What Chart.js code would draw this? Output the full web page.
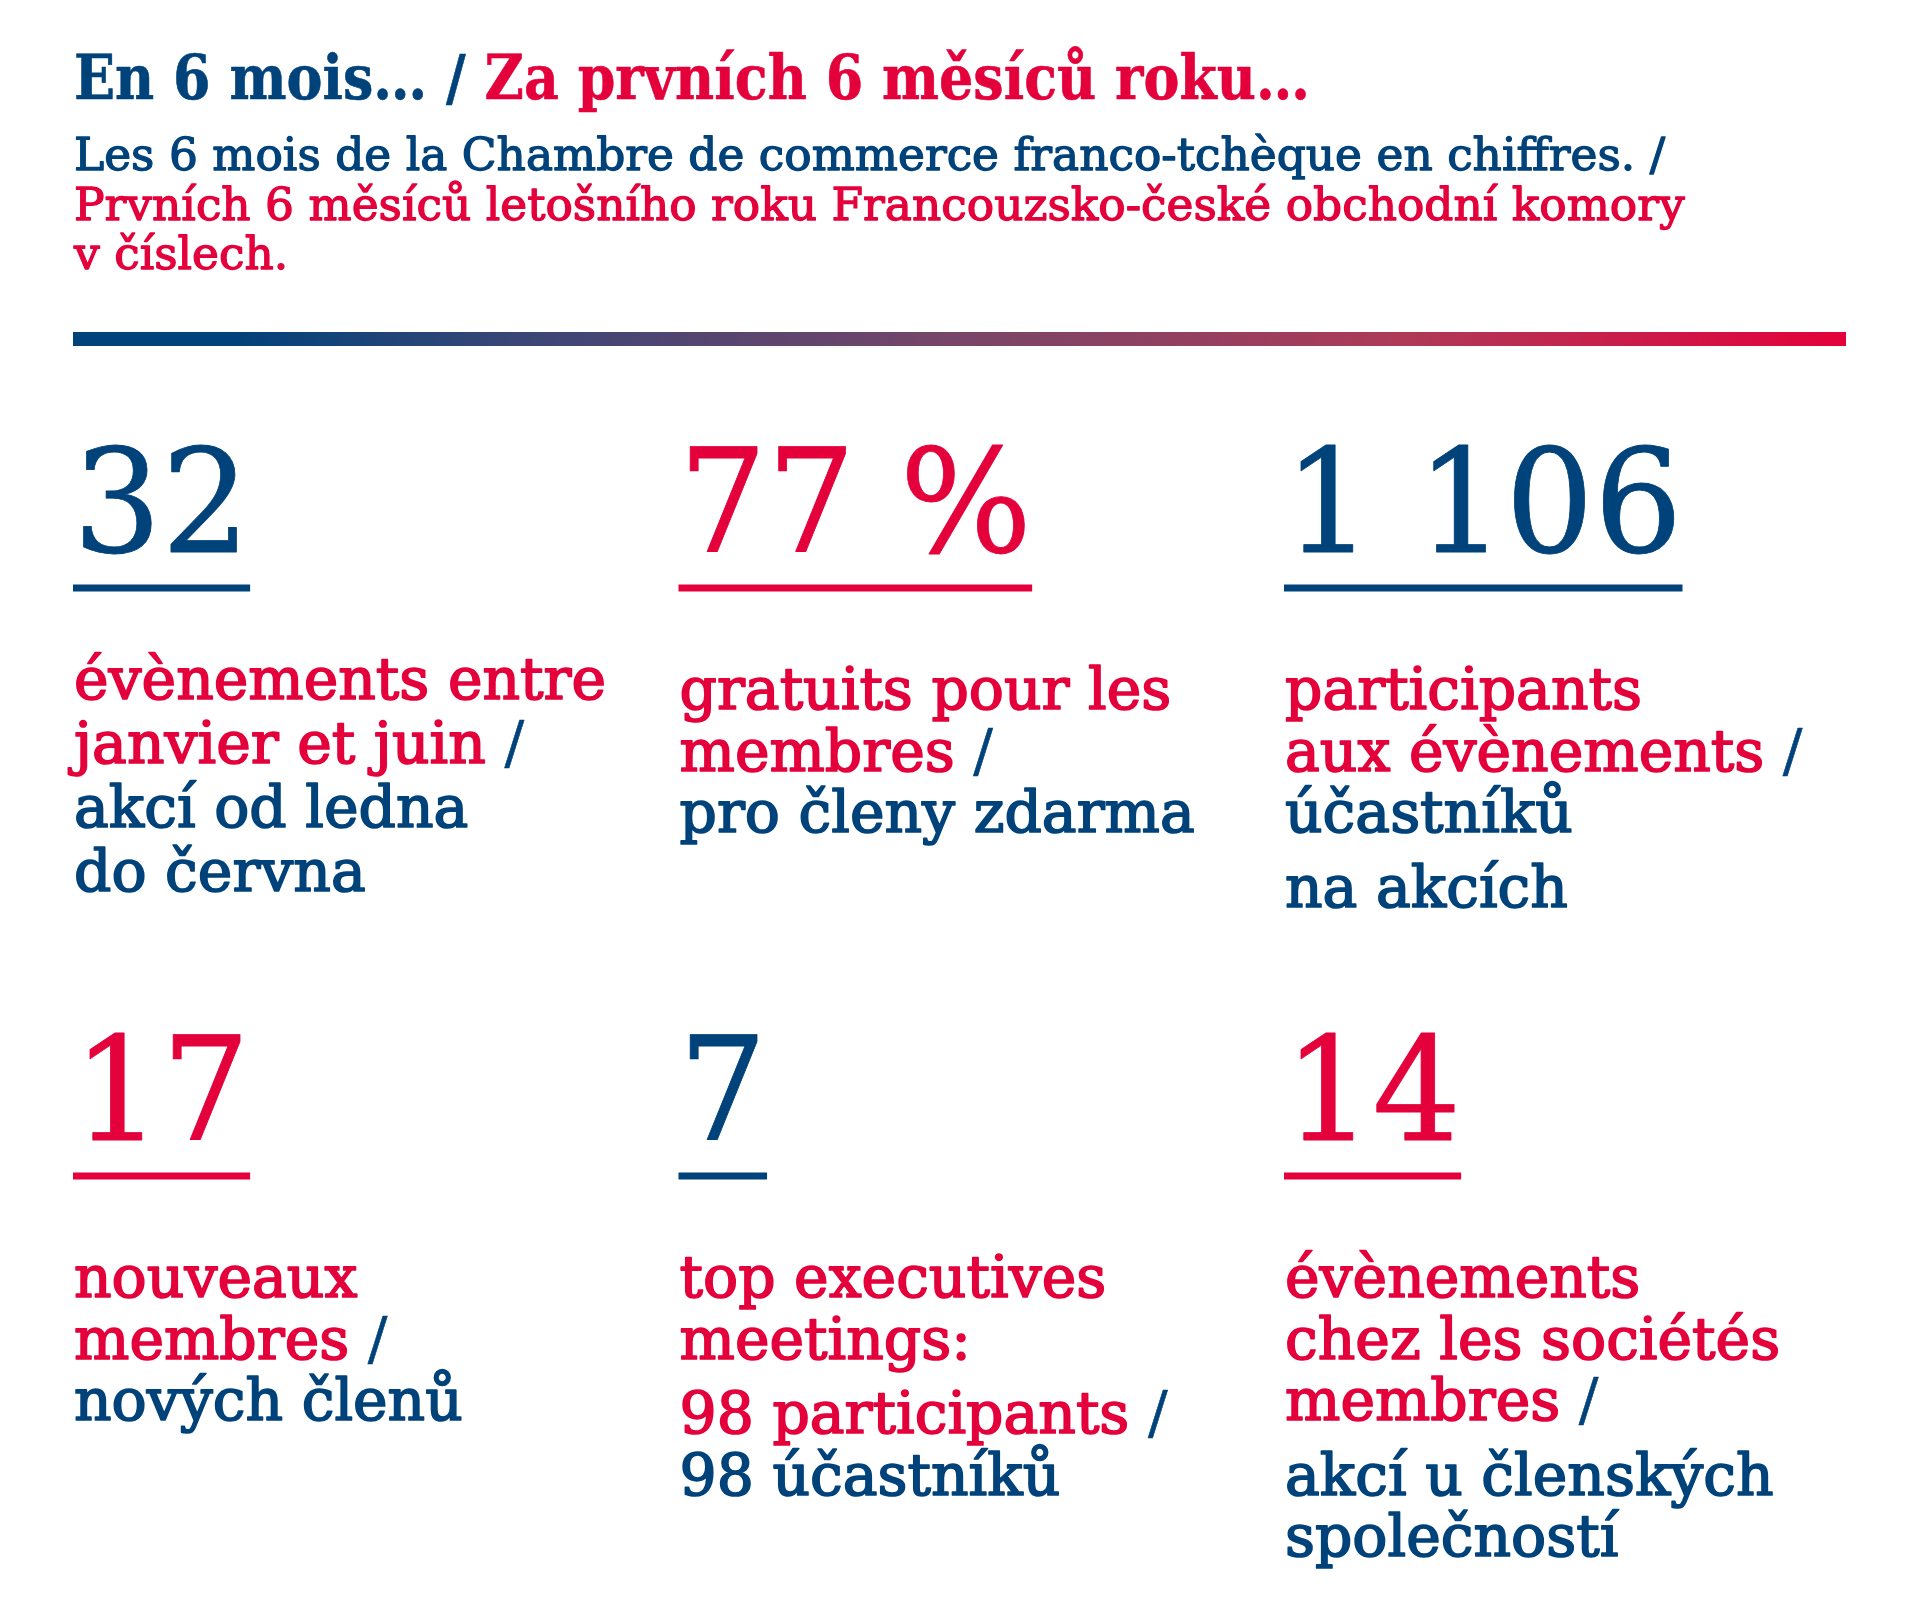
<!DOCTYPE html>
<html lang="fr">
<head>
<meta charset="utf-8">
<title>En 6 mois… / Za prvních 6 měsíců roku…</title>
<script src="https://cdn.jsdelivr.net/npm/chart.js@4.4.1/dist/chart.umd.min.js"></script>
<style>
  html, body { margin: 0; padding: 0; background: #fff; }
  #stats { display: block; }
</style>
</head>
<body>
<canvas id="stats" width="1920" height="1609"></canvas>
<script>
/* Chiffres des 6 premiers mois – CCI franco-tchèque (Chart.js, scatter + plugin de texte). */

// --- données ---
const titleFr = 'En 6 mois… / ';
const titleCs = 'Za prvních 6 měsíců roku…';
const subtitleLines = [
  'Les 6 mois de la Chambre de commerce franco-tchèque en chiffres. /',
  'Prvních 6 měsíců letošního roku Francouzsko-české obchodní komory',
  'v číslech.'
];

const statValues = [32, 77, 1106, 17, 7, 14];
const statUnits = ['', ' %', '', '', '', ''];

// '' = saut de paragraphe
const labelFr = [
  ['évènements entre', 'janvier et juin'],
  ['gratuits pour les', 'membres'],
  ['participants', 'aux évènements'],
  ['nouveaux', 'membres'],
  ['top executives', 'meetings:', '', '98 participants'],
  ['évènements', 'chez les sociétés', 'membres']
];
const labelCs = [
  ['akcí od ledna', 'do června'],
  ['pro členy zdarma'],
  ['účastníků', '', 'na akcích'],
  ['nových členů'],
  ['98 účastníků'],
  ['', 'akcí u členských', 'společností']
];

// --- styles ---
const NAVY = '#00427a';
const RED = '#e4003b';
const SERIF = '"DejaVu Serif", "Liberation Serif", serif';
const numberColors = [NAVY, RED, NAVY, RED, NAVY, RED];
const labelDrop = [147, 157, 157, 157, 157, 157];
const labelLead = [64, 61.5, 61.5, 61.5, 61.5, 61.5];
const paraExtra = 13;

function formatValue(v, i) {
  return String(v).replace(/\B(?=(\d{3})+(?!\d))/g, ' ') + statUnits[i];
}

function fitSize(ctx, weight, text, targetWidth) {
  ctx.font = weight + ' 100px ' + SERIF;
  return (100 * targetWidth) / ctx.measureText(text).width;
}

// texte un peu plus gras que DejaVu Book (contour de même couleur)
function heavyText(ctx, text, x, y, color, weight) {
  ctx.fillStyle = color;
  ctx.fillText(text, x, y);
  if (weight > 0) {
    ctx.strokeStyle = color;
    ctx.lineWidth = weight;
    ctx.lineJoin = 'round';
    ctx.strokeText(text, x, y);
  }
}

function drawHeader(ctx) {
  ctx.save();
  ctx.textBaseline = 'alphabetic';
  ctx.textAlign = 'left';

  // titre
  ctx.font = 'bold 61px ' + SERIF;
  const tw = ctx.measureText(titleFr + titleCs).width;
  const sx = 1236 / tw;
  ctx.save();
  ctx.translate(74, 99);
  ctx.scale(sx, 1);
  heavyText(ctx, titleFr, 0, 0, NAVY, 0.6);
  const w1 = ctx.measureText(titleFr).width;
  heavyText(ctx, titleCs, w1, 0, RED, 0.6);
  ctx.restore();

  // sous-titre
  ctx.font = '45px ' + SERIF;
  const sw = ctx.measureText(subtitleLines[0]).width;
  const ssx = 1591 / sw;
  const baselines = [170, 220, 269];
  subtitleLines.forEach(function (line, k) {
    ctx.save();
    ctx.translate(74, baselines[k]);
    ctx.scale(ssx, 1);
    heavyText(ctx, line, 0, 0, k === 0 ? NAVY : RED, 1.3);
    ctx.restore();
  });

  // filet dégradé
  const g = ctx.createLinearGradient(73, 0, 1846, 0);
  g.addColorStop(0, NAVY);
  g.addColorStop(0.09, NAVY);
  g.addColorStop(0.25, '#3a4676');
  g.addColorStop(0.5, '#784568');
  g.addColorStop(0.75, '#ae3a58');
  g.addColorStop(1, RED);
  ctx.fillStyle = g;
  ctx.fillRect(73, 332, 1773, 14);
  ctx.restore();
}

function drawStat(ctx, x, y, i, labelSize) {
  const txt = formatValue(statValues[i], i);
  const numScale = 0.96;

  ctx.save();
  ctx.textBaseline = 'alphabetic';
  ctx.textAlign = 'left';

  // grand chiffre
  ctx.font = '145px ' + SERIF;
  const w = ctx.measureText(txt).width * numScale;
  ctx.save();
  ctx.translate(x, y);
  ctx.scale(numScale, 1);
  heavyText(ctx, txt, 0, 0, numberColors[i], 0.8);
  ctx.restore();

  // soulignement
  ctx.fillStyle = numberColors[i];
  ctx.fillRect(x, y + 32.5, w, 7);

  // libellés
  ctx.font = labelSize + 'px ' + SERIF;
  let by = y + labelDrop[i];
  let first = true;
  function put(line, color, slash) {
    if (line === '') {
      by += paraExtra;
      return;
    }
    if (!first) by += labelLead[i];
    first = false;
    heavyText(ctx, line, x + 1, by, color, 1.7);
    if (slash) {
      const lw = ctx.measureText(line).width;
      heavyText(ctx, ' /', x + 1 + lw, by, NAVY, 0.6);
    }
  }
  const fr = labelFr[i];
  fr.forEach(function (line, k) {
    put(line, RED, k === fr.length - 1);
  });
  labelCs[i].forEach(function (line) {
    put(line, NAVY, false);
  });
  ctx.restore();
}

const infographic = {
  id: 'infographic',
  afterDraw: function (chart) {
    const ctx = chart.ctx;
    drawHeader(ctx);
    const labelSize = fitSize(ctx, '', 'participants', 357);
    const meta = chart.getDatasetMeta(0);
    meta.data.forEach(function (pt, i) {
      drawStat(ctx, pt.x, pt.y, i, labelSize);
    });
  }
};

new Chart(document.getElementById('stats'), {
  type: 'scatter',
  data: {
    datasets: [
      {
        data: statValues.map(function (v, i) {
          return { x: i % 3, y: Math.floor(i / 3), v: v };
        }),
        pointRadius: 0,
        pointHoverRadius: 0
      }
    ]
  },
  options: {
    responsive: false,
    animation: false,
    devicePixelRatio: 1,
    events: [],
    layout: { padding: { left: 73, right: 636, top: 552, bottom: 469 } },
    scales: {
      x: { type: 'linear', min: 0, max: 2, display: false },
      y: { type: 'linear', min: 0, max: 1, reverse: true, display: false }
    },
    plugins: {
      legend: { display: false },
      tooltip: { enabled: false }
    }
  },
  plugins: [infographic]
});
</script>
</body>
</html>
